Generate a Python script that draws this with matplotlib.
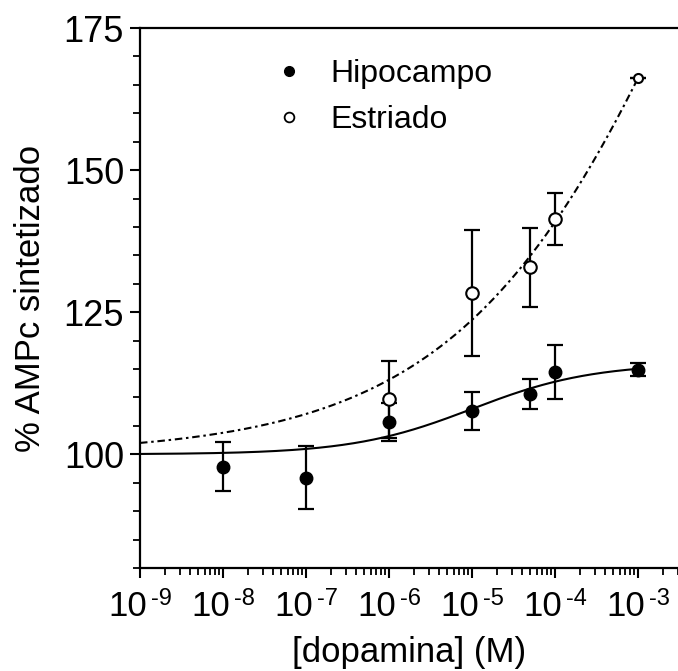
import numpy as np
import matplotlib
matplotlib.use("Agg")
import matplotlib.pyplot as plt
import matplotlib.transforms as mtransforms
from matplotlib.ticker import LogLocator, MultipleLocator, FixedLocator, NullFormatter
from matplotlib.lines import Line2D

plt.rcParams['font.family'] = ['Liberation Sans', 'DejaVu Sans']

# Dopamine concentration (M), mean response and SEM
hip_conc = [1e-8, 1e-7, 1e-6, 1e-5, 5e-5, 1e-4, 1e-3]
hip_mean = [97.8, 95.9, 105.7, 107.6, 110.6, 114.5, 114.9]
hip_sem = [4.3, 5.6, 3.4, 3.4, 2.6, 4.8, 1.2]

est_conc = [1e-6, 1e-5, 5e-5, 1e-4, 1e-3]
est_mean = [109.7, 128.4, 132.9, 141.4, 166.2]
est_sem = [6.8, 11.1, 6.9, 4.5, 0.0]

# Sigmoidal dose-response fit parameters (bottom, top, logEC50, Hill slope)
hip_fit = (100.0, 116.0, -5.0, 0.6)
est_fit = (100.0, 310.0, -1.8, 0.28)

series_labels = ["Hipocampo", "Estriado"]
x_tick_exponents = [-9, -8, -7, -6, -5, -4, -3]


def dose_response(logx, bottom, top, logec50, hill):
    return bottom + (top - bottom) / (1.0 + 10 ** ((logec50 - logx) * hill))


fig = plt.figure(figsize=(6.78, 6.71), dpi=100)
ax = fig.add_axes([140 / 678, 1 - 568 / 671, 538 / 678, 540 / 671])

logx = np.linspace(-9, -3, 400)
ax.plot(10 ** logx, dose_response(logx, *hip_fit), color='black', lw=1.5, zorder=2)
ax.plot(10 ** logx, dose_response(logx, *est_fit), color='black', lw=1.5,
        linestyle=(0, (3.6, 1.8, 1.2, 1.8)), zorder=2)

err_kw = dict(fmt='none', ecolor='black', elinewidth=1.6, capsize=6, capthick=1.6)
ax.errorbar(hip_conc, hip_mean, yerr=hip_sem, zorder=3, **err_kw)
ax.plot(hip_conc, hip_mean, 'o', color='black', ms=9, zorder=4)

ax.errorbar(est_conc, est_mean, yerr=est_sem, zorder=5, **err_kw)
ax.plot(est_conc[:-1], est_mean[:-1], 'o', mfc='white', mec='black', mew=1.5, ms=9, zorder=6)
ax.plot(est_conc[-1:], est_mean[-1:], 'o', mfc='white', mec='black', mew=1.5, ms=6.5, zorder=6)

ax.set_xscale('log')
ax.set_xlim(1e-9, 10 ** (-9 + 538 / 83.05))
ax.set_ylim(80, 175)

ax.xaxis.set_major_locator(FixedLocator([10.0 ** e for e in x_tick_exponents]))
ax.xaxis.set_major_formatter(NullFormatter())
ax.xaxis.set_minor_locator(LogLocator(base=10, subs=np.arange(2, 10), numticks=20))
ax.xaxis.set_minor_formatter(NullFormatter())

ax.yaxis.set_major_locator(MultipleLocator(25))
ax.yaxis.set_minor_locator(MultipleLocator(5))

ax.tick_params(which='major', direction='out', length=7.5, width=1.5, labelsize=26, pad=4)
ax.tick_params(which='minor', direction='out', length=5, width=1.3)

for side in ('left', 'bottom', 'top'):
    ax.spines[side].set_linewidth(1.6)
ax.spines['right'].set_visible(False)

# Decade labels: "10" with a raised, smaller exponent
base_tr = ax.get_xaxis_transform()
for e in x_tick_exponents:
    tr_base = base_tr + mtransforms.ScaledTranslation(7 / 100, -48 / 100, fig.dpi_scale_trans)
    tr_exp = base_tr + mtransforms.ScaledTranslation(11 / 100, -37 / 100, fig.dpi_scale_trans)
    ax.text(10.0 ** e, 0, '10', transform=tr_base, ha='right', va='baseline',
            fontsize=25, clip_on=False)
    ax.text(10.0 ** e, 0, '-%d' % abs(e), transform=tr_exp, ha='left', va='baseline',
            fontsize=17, clip_on=False)

ax.set_xlabel('[dopamina] (M)', fontsize=25)
ax.xaxis.label.set_va('baseline')
ax.xaxis.set_label_coords(0.5, -(662 - 568) / 540)
ax.set_ylabel('% AMPc sintetizado', fontsize=25, labelpad=12)

handles = [
    Line2D([], [], marker='o', linestyle='none', color='black', ms=7),
    Line2D([], [], marker='o', linestyle='none', mfc='white', mec='black', mew=1.3, ms=7),
]
ax.legend(handles, series_labels, loc='upper left', bbox_to_anchor=(0.224, 0.966),
          frameon=False, fontsize=23, handlelength=1.0, handletextpad=0.8,
          labelspacing=0.5, borderaxespad=0.0)

fig.savefig('out.png', dpi=100)
